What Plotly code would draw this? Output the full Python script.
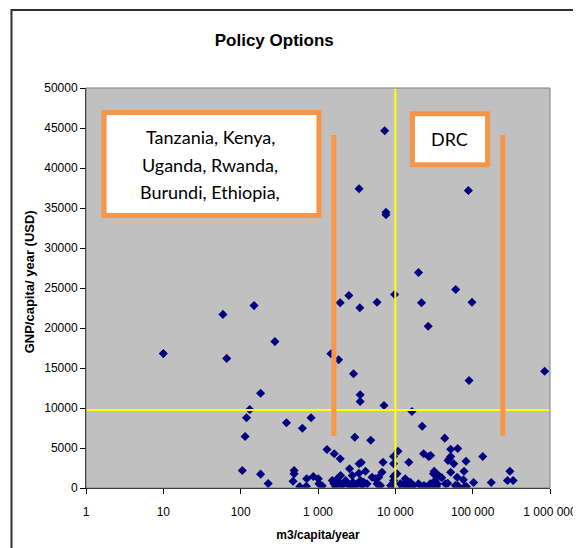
import plotly.graph_objects as go

# ---------------- data ----------------
water_m3 = [
    10, 59, 149, 66, 277, 181, 131, 119, 391, 114, 105, 181, 227, 628, 813,
    7280, 3400, 7570, 7570, 19950, 2506, 1937, 3474, 5800, 9800, 21800, 26600,
    1470, 1846, 2880, 3510, 3510, 7140, 16370, 22230, 2993, 4810, 1306, 1622,
    1937, 3400, 3620, 6930, 9500, 10810, 14950, 9500, 23200, 27000, 28600,
    60300, 98000, 89700, 853000, 43500, 52000, 64000, 48000, 52000, 50000,
    57000, 82000, 135000, 88000,
    491, 491, 476, 581, 707, 714, 870, 1009, 1030, 1135, 1528, 1607, 1690,
    1772, 1862, 1960, 2055, 2273, 2385, 2560, 2636, 2767, 2824, 2993, 3206,
    3373, 3541, 3717, 3908, 4110, 4315, 5000, 5530, 5810, 6100, 6410, 6730,
    9060, 9510, 9510, 10500, 11600, 12800, 13460, 14130, 15600, 17200, 19950,
    22000, 25550, 28200, 31100, 32700,
    31800, 39800, 36100, 52000, 77400, 75800, 62900, 47600, 64000, 82800,
    102800, 174000, 303000, 282000, 334000, 44500, 59800, 78000, 12400, 14400,
    23500, 27200, 34000, 35000, 10000, 8700,
]
gnp_usd = [
    16800, 21700, 22800, 16200, 18300, 11850, 9800, 8780, 8150, 6440, 2190, 1730, 560, 7475, 8775,
    44650, 37400, 34475, 34150, 26940, 24060, 23150, 22525, 23225, 24190, 23150, 20225,
    16775, 16025, 14275, 11650, 10810, 10310, 9560, 7725, 6350, 5975, 4810, 4275,
    3650, 3025, 3190, 3225, 3940, 4600, 3225, 3025, 4275, 3940, 4060,
    24810, 23225, 13440, 14600, 6230, 4850, 4940, 3440, 3940, 3650,
    3025, 3350, 3940, 37190,
    2190, 1770, 850, 190, 225, 1150, 1440, 1150, 525, 275, 940, 525, 190,
    1150, 725, 1560, 310, 940, 525, 2400, 310, 1560, 725, 190, 525,
    1850, 940, 310, 725, 2100, 525, 1350, 1150, 525, 1350, 310, 1975,
    190, 1440, 940, 1775, 525, 525, 1150, 850, 725, 310, 525,
    190, 100, 525, 1775, 940,
    2100, 1275, 1600, 1975, 2100, 1025, 1350, 600, 310, 190,
    690, 690, 2100, 940, 940, 525, 310, 100, 100, 190,
    310, 60, 190, 500, 1690, 310,
]

threshold_water = 10000      # vertical guide
threshold_gnp = 9750         # horizontal guide

x_tick_vals = [1, 10, 100, 1000, 10000, 100000, 1000000]
x_tick_text = ["1", "10", "100", "1 000", "10 000", "100 000", "1 000 000"]

title_text = "Policy Options"
x_title = "m3/capita/year"
y_title = "GNP/capita/ year (USD)"
box1_lines = ["Tanzania, Kenya,", "Uganda, Rwanda,", "Burundi, Ethiopia,"]
box2_text = "DRC"

# ---------------- layout helpers ----------------
W, H = 581, 548
OFF = 8                      # page offset of the figure (body margin)
ML, MT = 78, 80
PW, PH = 467, 400
MR, MB = W - ML - PW, H - MT - PH


def px(xp):
    """page pixel x -> paper x"""
    return (xp - OFF - ML) / PW


def py(yp):
    """page pixel y -> paper y"""
    return (MT + PH - (yp - OFF)) / PH


ORANGE = "#F79646"
FONT = "Liberation Sans, Arial, sans-serif"
BOXFONT = "Lato, Open Sans, sans-serif"

fig = go.Figure()
fig.add_trace(go.Scatter(
    x=water_m3, y=gnp_usd, mode="markers",
    marker=dict(symbol="diamond", size=7, color="#000080"),
    showlegend=False, hoverinfo="x+y",
))
fig.add_trace(go.Scatter(
    x=[threshold_water, threshold_water], y=[0, 50000], mode="lines",
    line=dict(color="#FFFF00", width=2), showlegend=False, hoverinfo="skip",
))
fig.add_trace(go.Scatter(
    x=[1, 1000000], y=[threshold_gnp, threshold_gnp], mode="lines",
    line=dict(color="#FFFF00", width=2), showlegend=False, hoverinfo="skip",
))

shapes = [
    # outer chart frame
    dict(type="rect", xref="paper", yref="paper", x0=px(11), x1=px(600),
         y0=py(570), y1=py(10), line=dict(color="#303030", width=2), layer="below"),
    # plot area border (top/right)
    dict(type="rect", xref="paper", yref="paper", x0=0, x1=1, y0=0, y1=1,
         line=dict(color="#808080", width=1), layer="above"),
    # orange bars
    dict(type="rect", xref="paper", yref="paper", x0=px(333), x1=px(338),
         y0=py(436), y1=py(135), fillcolor=ORANGE, line=dict(width=0), layer="above"),
    dict(type="rect", xref="paper", yref="paper", x0=px(503), x1=px(508),
         y0=py(436), y1=py(135), fillcolor=ORANGE, line=dict(width=0), layer="above"),
    # text boxes
    dict(type="rect", xref="paper", yref="paper", x0=px(104.2), x1=px(320.5),
         y0=py(215.5), y1=py(112.5), fillcolor="white",
         line=dict(color=ORANGE, width=5), layer="above"),
    dict(type="rect", xref="paper", yref="paper", x0=px(414.5), x1=px(490.2),
         y0=py(164.8), y1=py(113.8), fillcolor="white",
         line=dict(color=ORANGE, width=5), layer="above"),
]

annotations = []
for i, line in enumerate(box1_lines):
    annotations.append(dict(
        text=line, xref="paper", yref="paper", x=px(211), y=py(137 + 27.5 * i),
        xanchor="center", yanchor="middle", showarrow=False,
        font=dict(family=BOXFONT, size=18, color="black"),
    ))
annotations.append(dict(
    text=box2_text, xref="paper", yref="paper", x=px(452), y=py(139),
    xanchor="center", yanchor="middle", showarrow=False,
    font=dict(family=BOXFONT, size=18, color="black"),
))
annotations.append(dict(
    text="<b>%s</b>" % y_title, xref="paper", yref="paper", x=px(29), y=py(282),
    xanchor="center", yanchor="middle", showarrow=False, textangle=-90,
    font=dict(family=FONT, size=13, color="black"),
))

fig.update_layout(
    width=W, height=H,
    margin=dict(l=ML, r=MR, t=MT, b=MB),
    paper_bgcolor="white", plot_bgcolor="#C0C0C0",
    title=dict(text="<b>%s</b>" % title_text, x=px(300), xanchor="center",
               y=1 - (40 - OFF) / H, yanchor="middle",
               font=dict(family=FONT, size=17, color="black")),
    font=dict(family=FONT, size=12, color="black"),
    shapes=shapes, annotations=annotations, showlegend=False,
)
fig.update_xaxes(
    type="log", range=[0, 6], tickvals=x_tick_vals, ticktext=x_tick_text,
    showgrid=False, zeroline=False, showline=True, linecolor="black", linewidth=1,
    ticks="outside", ticklen=5, tickcolor="black", ticklabelstandoff=8,
    title=dict(text="<b>%s</b>" % x_title, font=dict(size=12), standoff=12),
)
fig.update_yaxes(
    range=[0, 50000], dtick=5000, tickformat="d",
    showgrid=False, zeroline=False, showline=True, linecolor="black", linewidth=1,
    ticks="outside", ticklen=5, tickcolor="black",
)

fig.write_html("out.html")
